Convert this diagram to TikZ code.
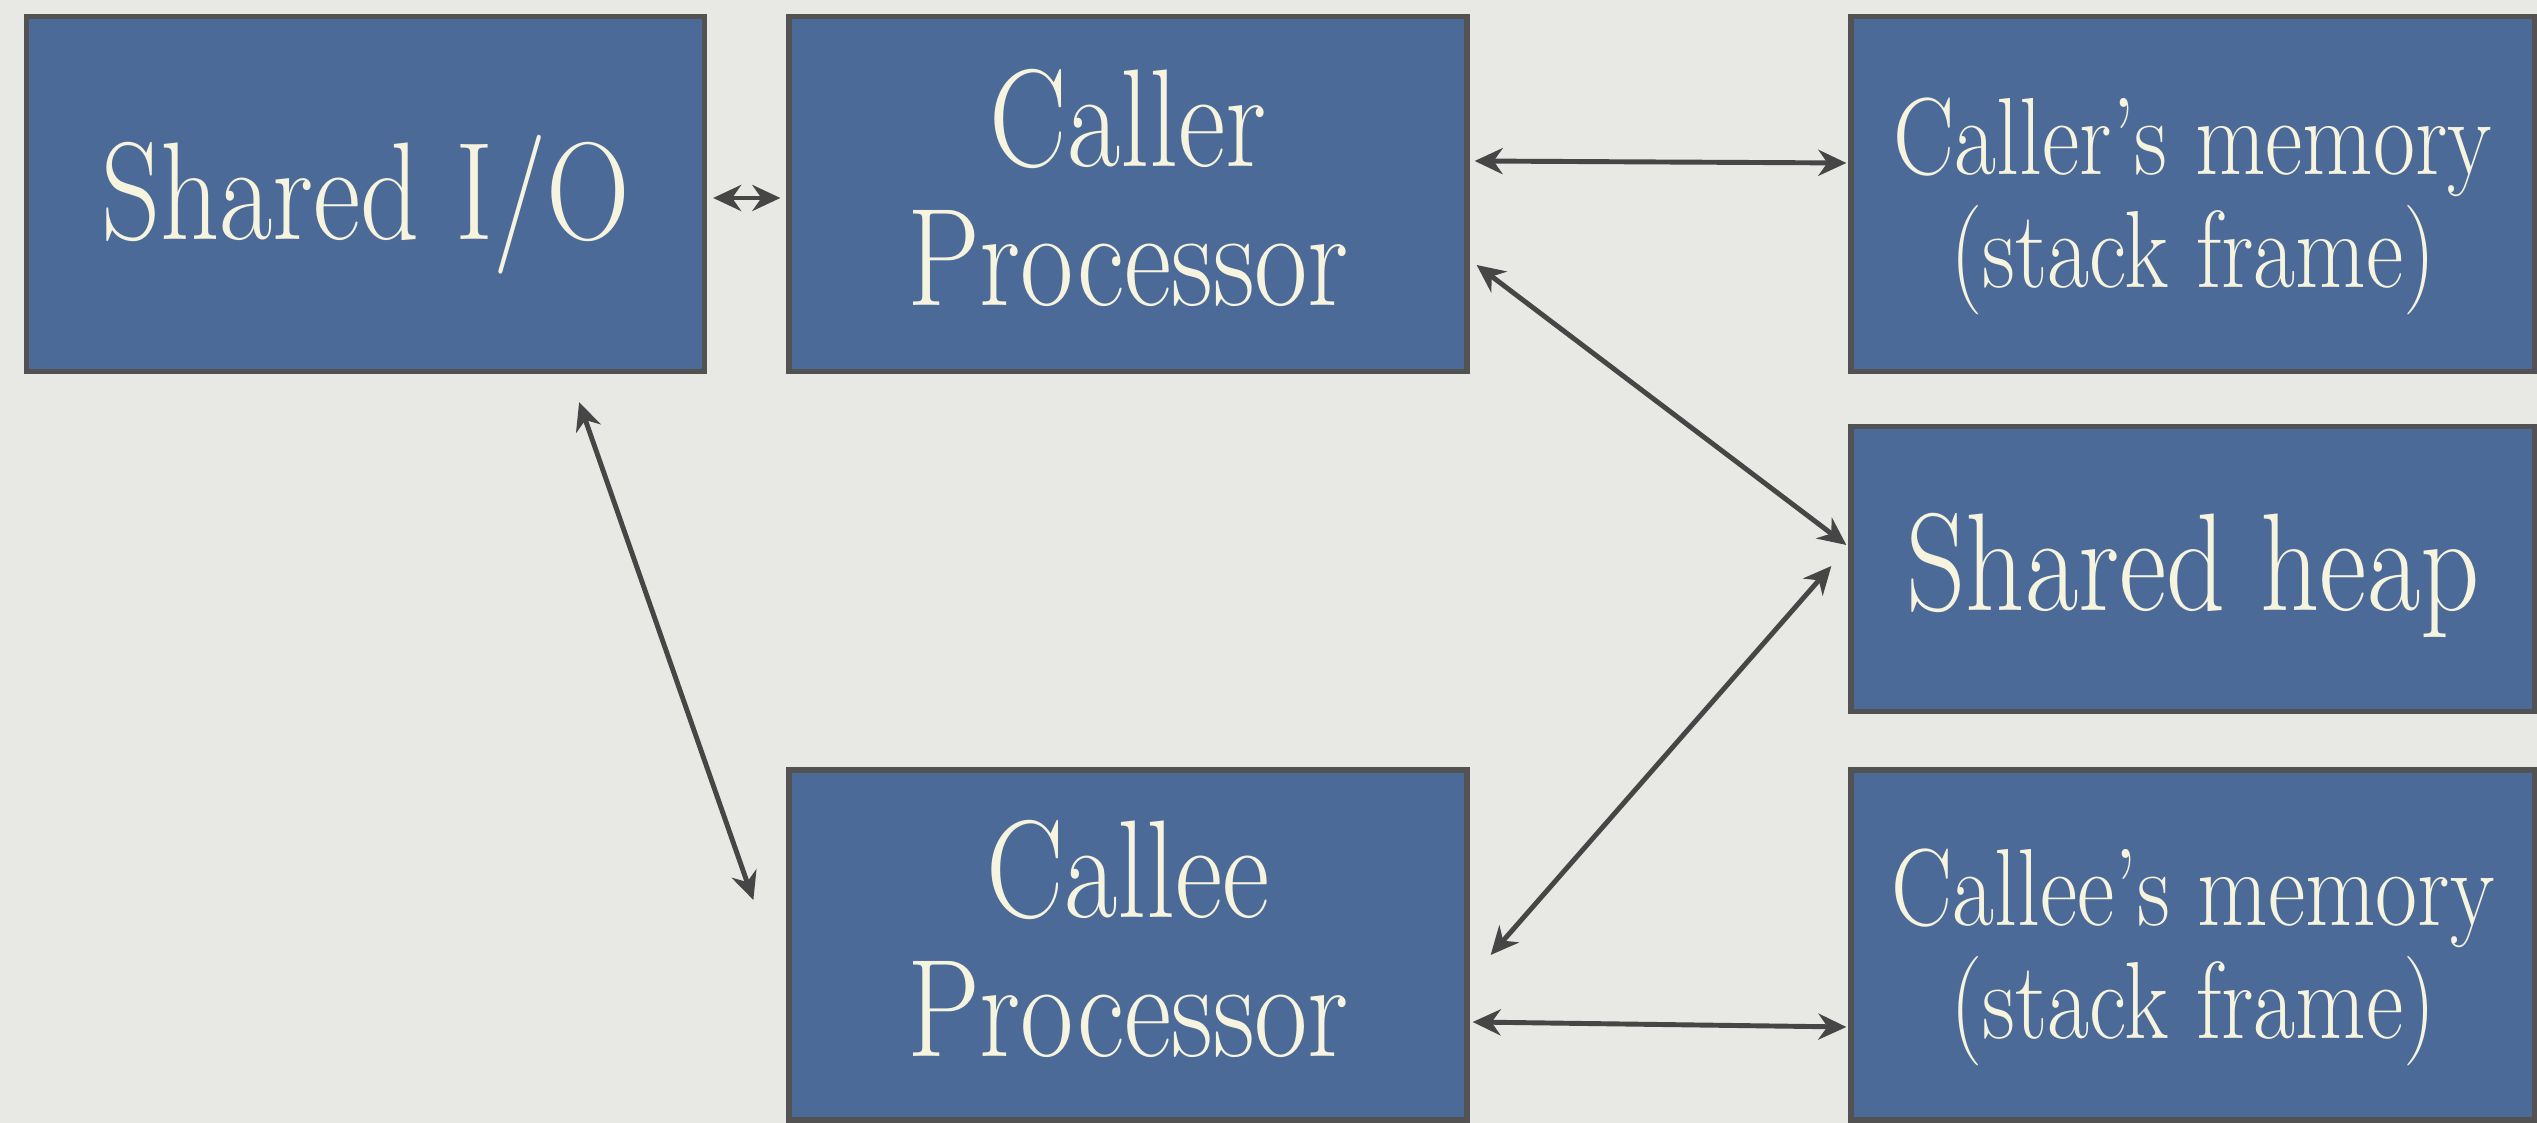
\documentclass[tikz,border=0pt]{standalone}
\usepackage{tikz}
\usepackage{graphicx}
\usetikzlibrary{arrows.meta}
\definecolor{paper}{RGB}{232,232,228}
\definecolor{boxblue}{RGB}{75,106,152}
\definecolor{boxline}{RGB}{82,82,82}
\definecolor{linkgray}{RGB}{70,70,70}
\definecolor{cream}{RGB}{246,243,222}
\newcommand{\boxtext}[1]{\raisebox{-4pt}[\height][\depth]{\scalebox{1}[1.2]{\begin{tabular}{@{}c@{}}#1\end{tabular}}}}

\begin{document}
\begin{tikzpicture}[line width=1.2pt,>={Stealth[length=2.8mm,width=2.6mm,inset=0.9mm]},
  box/.style={draw=boxline,fill=boxblue,line width=1.5pt,text=cream,align=center,
    inner sep=0pt,minimum width=6.78cm,minimum height=3.5cm},
  bigtxt/.style={font=\fontsize{33}{33}\selectfont},
  smalltxt/.style={font=\fontsize{26}{24}\selectfont},
  link/.style={<->,draw=linkgray,line width=1.4pt}]
  % ===================== fondo =====================
  \useasboundingbox (0,0) rectangle (25.37,11.23);
  \fill[paper] (0,0) rectangle (25.37,11.23);
  % ===================== fila de arriba =====================
  \node[box,bigtxt,minimum height=3.55cm] (sio) at (3.655,9.29) {\boxtext{Shared I/O}};
  \node[box,bigtxt,minimum height=3.55cm] (cpu1) at (11.28,9.29) {\boxtext{Caller\\Processor}};
  \node[box,smalltxt,minimum width=6.84cm,minimum height=3.55cm] (mem1) at (21.93,9.29) {\boxtext{Caller's memory\\(stack frame)}};
  % ===================== heap =====================
  \node[box,bigtxt,minimum width=6.84cm,minimum height=2.85cm] (heap) at (21.93,5.54) {\boxtext{Shared heap}};
  % ===================== fila de abajo =====================
  \node[box,bigtxt] (cpu2) at (11.28,1.78) {\boxtext{Callee\\Processor}};
  \node[box,smalltxt,minimum width=6.84cm] (mem2) at (21.93,1.78) {\boxtext{Callee's memory\\(stack frame)}};
  % ---------- conexiones ----------
  \draw[link] ([xshift=0.06cm,yshift=-0.04cm]sio.east) -- ([xshift=-0.06cm,yshift=-0.04cm]cpu1.west);
  \draw[link] ([xshift=0.05cm,yshift=0.33cm]cpu1.east) -- ([xshift=-0.02cm,yshift=0.31cm]mem1.west);
  \draw[link] ([xshift=0.07cm,yshift=-0.71cm]cpu1.east) -- ([xshift=-0.02cm,yshift=0.24cm]heap.west);
  \draw[link] ([xshift=-1.28cm,yshift=-0.28cm]sio.south east) -- ([xshift=-0.33cm,yshift=0.45cm]cpu2.west);
  \draw[link] ([xshift=0.21cm,yshift=-0.10cm]cpu2.east) -- ([xshift=-0.17cm,yshift=0.03cm]heap.west);
  \draw[link] ([xshift=0.03cm,yshift=-0.77cm]cpu2.east) -- ([xshift=-0.02cm,yshift=-0.82cm]mem2.west);
\end{tikzpicture}
\end{document}
